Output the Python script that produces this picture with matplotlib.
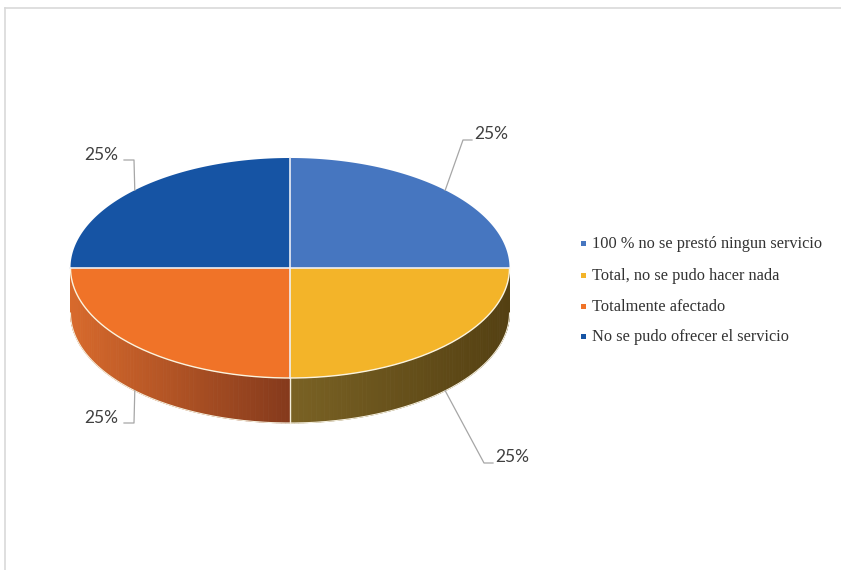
import numpy as np
import matplotlib.pyplot as plt
from matplotlib.patches import Polygon
from matplotlib.colors import to_rgb

categories = [
    "100 % no se prestó ningun servicio",
    "Total, no se pudo hacer nada",
    "Totalmente afectado",
    "No se pudo ofrecer el servicio",
]
values = [25, 25, 25, 25]
labels = ["25%", "25%", "25%", "25%"]

top_colors = ["#4676C0", "#F3B429", "#F07328", "#1654A4"]
side_light = ["#3A62A0", "#7A6224", "#D86A2C", "#13468A"]
side_dark = ["#2C4E80", "#544012", "#853A1C", "#0E3670"]

# pie geometry in pixel units
cx, cy = 290.0, 268.0
rx, ry = 219.5, 110.0
depth = 45.0


def ell(t, dy=0.0):
    return cx + rx * np.cos(t), cy - ry * np.sin(t) + dy


fig = plt.figure(figsize=(8.41, 5.70), dpi=100)
ax = fig.add_axes([0, 0, 1, 1])
ax.set_xlim(0, 841)
ax.set_ylim(570, 0)
ax.axis("off")

# slice angles: start at 12 o'clock, go clockwise
total = float(sum(values))
bounds = [np.pi / 2]
for v in values:
    bounds.append(bounds[-1] - 2 * np.pi * v / total)

# side walls (only the front half, angles -pi..0, is visible)
for i in range(len(values)):
    lo_t = max(bounds[i + 1], -np.pi)
    hi_t = min(bounds[i], 0.0)
    if hi_t <= lo_t:
        continue
    ts = np.linspace(lo_t, hi_t, 80)
    c_l = np.array(to_rgb(side_light[i]))
    c_d = np.array(to_rgb(side_dark[i]))
    xs_all = ell(ts)[0]
    xmin, xmax = xs_all.min(), xs_all.max()
    for k in range(len(ts) - 1):
        xa, ya = ell(ts[k])
        xb, yb = ell(ts[k + 1])
        f = ((xa + xb) / 2 - xmin) / (xmax - xmin)
        col = c_l * (1 - f) + c_d * f
        quad = [(xa, ya), (xb, yb), (xb, yb + depth), (xa, ya + depth)]
        ax.add_patch(Polygon(quad, closed=True, facecolor=col,
                             edgecolor=col, linewidth=0.6))

# light edges on the side wall
bt = np.linspace(-np.pi, 0, 200)
bx, by = ell(bt, depth)
ax.plot(bx, by, color="#F4EEDC", lw=0.8)
for b in bounds:
    bb = np.arctan2(np.sin(b), np.cos(b))
    if -np.pi < bb < 0:
        x0, y0 = ell(bb)
        ax.plot([x0, x0], [y0, y0 + depth], color="#F4EEDC", lw=1.0)

# top surface
for i in range(len(values)):
    ts = np.linspace(bounds[i], bounds[i + 1], 120)
    xs, ys = ell(ts)
    pts = [(cx, cy)] + list(zip(xs, ys))
    ax.add_patch(Polygon(pts, closed=True, facecolor=top_colors[i],
                         edgecolor="none"))

tt = np.linspace(-np.pi, 0, 200)
ax.plot(*ell(tt), color="#FBF4DF", lw=1.0)
for b in bounds[:-1]:
    x0, y0 = ell(b)
    ax.plot([cx, x0], [cy, y0], color="#EDEFF5", lw=1.2)

# data labels with leader lines
label_pos = [(491, 134), (512, 457), (101, 418), (101, 155)]
for i, lab in enumerate(labels):
    mid = (bounds[i] + bounds[i + 1]) / 2
    if np.sin(mid) < 0:
        px, py = ell(mid, depth)
    else:
        px, py = ell(mid)
    lx, ly = label_pos[i]
    if lx > cx:
        elbow = (lx - 28, ly + 6)
        end = (lx - 19, ly + 6)
    else:
        elbow = (lx + 33, ly + 5)
        end = (lx + 23, ly + 5)
    ax.plot([px, elbow[0], end[0]], [py, elbow[1], end[1]],
            color="#A6A6A6", lw=0.9)
    ax.text(lx, ly, lab, fontsize=12.5, color="#404040", family="Lato",
            ha="center", va="center")

# legend
leg_y = [244, 276, 307, 337]
for i, cat in enumerate(categories):
    ax.add_patch(plt.Rectangle((581, leg_y[i] - 3), 5, 5,
                               facecolor=top_colors[i], edgecolor="none"))
    ax.text(592, leg_y[i], cat, fontsize=11.8, color="#333333",
            family="Liberation Serif", ha="left", va="center")

# frame lines
ax.plot([5, 841], [8, 8], color="#D9D9D9", lw=1.2)
ax.plot([5, 5], [8, 570], color="#D9D9D9", lw=1.2)

fig.savefig("out.png", dpi=100)
